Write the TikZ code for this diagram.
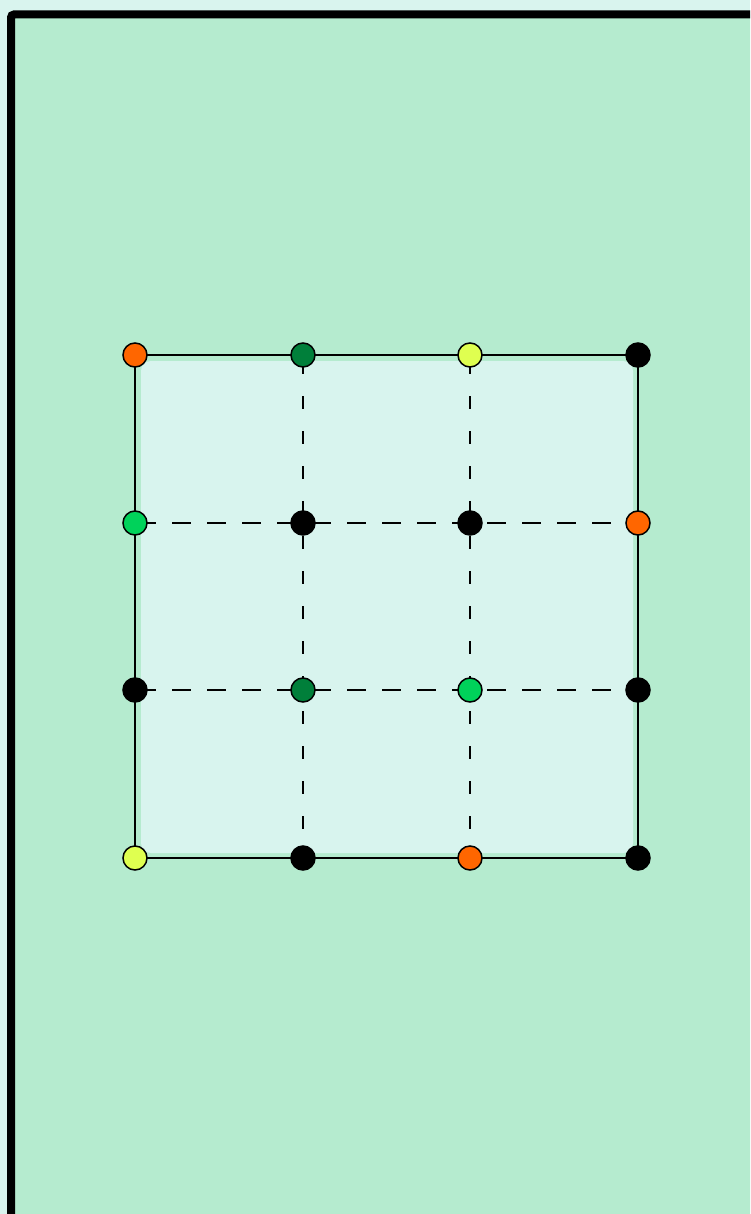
\documentclass[tikz,border=0pt]{standalone}
\usetikzlibrary{positioning,backgrounds}

\definecolor{pagebg}{HTML}{D9F4EE}
\definecolor{fieldgreen}{HTML}{B5EBCF}
\definecolor{innerbg}{HTML}{D8F4EE}
\definecolor{dotorange}{HTML}{FF6600}
\definecolor{dotdark}{HTML}{007F3A}
\definecolor{dotyellow}{HTML}{DFFF50}
\definecolor{dotgreen}{HTML}{00D25A}

\pgfdeclarelayer{grid}
\pgfsetlayers{background,grid,main}

\begin{document}
\begin{tikzpicture}[
  x=1pt, y=-1pt,
  dot/.style={circle, draw=black, line width=1.5pt, minimum size=24pt, inner sep=0pt},
  dk/.style={dot, fill=black},
  dor/.style={dot, fill=dotorange},
  ddg/.style={dot, fill=dotdark},
  dye/.style={dot, fill=dotyellow},
  dgr/.style={dot, fill=dotgreen},
  edge/.style={line width=1.5pt, draw=black},
  hdash/.style={line width=1.4pt, draw=black, dash pattern=on 19pt off 16pt, dash phase=-2pt},
  vdash/.style={line width=1.3pt, draw=black, dash pattern=on 13pt off 22pt, dash phase=-6pt},
]

% Page and frame
\useasboundingbox (0,0) rectangle (750,1214);

% Grid points
\node[dor] (r1c1) at (135,355) {};
\node[ddg] (r1c2) at (303,355) {};
\node[dye] (r1c3) at (470,355) {};
\node[dk]  (r1c4) at (638,355) {};

\node[dgr] (r2c1) at (135,523) {};
\node[dk]  (r2c2) at (303,523) {};
\node[dk]  (r2c3) at (470,523) {};
\node[dor] (r2c4) at (638,523) {};

\node[dk]  (r3c1) at (135,690) {};
\node[ddg] (r3c2) at (303,690) {};
\node[dgr] (r3c3) at (470,690) {};
\node[dk]  (r3c4) at (638,690) {};

\node[dye] (r4c1) at (135,858) {};
\node[dk]  (r4c2) at (303,858) {};
\node[dor] (r4c3) at (470,858) {};
\node[dk]  (r4c4) at (638,858) {};

% Grid lines, under the points
\begin{pgfonlayer}{grid}
  \draw[edge] (r1c1.center) -- (r1c4.center) -- (r4c4.center) -- (r4c1.center) -- cycle;
  \draw[hdash] (r2c1.center) -- (r2c4.center);
  \draw[hdash] (r3c1.center) -- (r3c4.center);
  \draw[vdash] (r1c2.center) -- (r4c2.center);
  \draw[vdash] (r1c3.center) -- (r4c3.center);
\end{pgfonlayer}

% Background: page, frame, inner square
\begin{pgfonlayer}{background}
  \fill[pagebg] (0,0) rectangle (750,1214);
  \begin{scope}
    \clip (0,0) rectangle (750,1214);
    \draw[line width=8pt, fill=fieldgreen, rounded corners=3pt] (11,14.5) rectangle (770,1240);
  \end{scope}
  \fill[innerbg, rounded corners=10pt] (141,361) rectangle (633,853);
\end{pgfonlayer}
\end{tikzpicture}
\end{document}
